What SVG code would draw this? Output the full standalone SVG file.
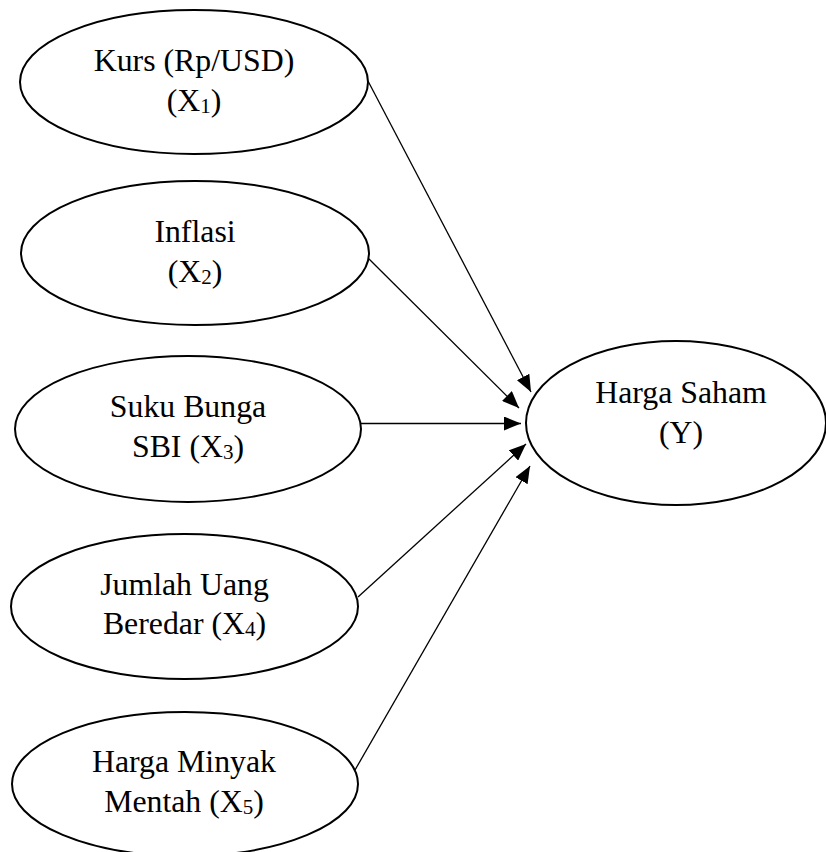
<svg xmlns="http://www.w3.org/2000/svg" width="826" height="852" viewBox="0 0 826 852">
<style>
.node ellipse{fill:#fff;stroke:#000;stroke-width:2}
.lbl{font-family:"Liberation Serif","Times New Roman",serif;font-size:31.8px;fill:#000;text-anchor:middle}
.sub{font-size:21px}
#connectors line{stroke:#000;stroke-width:1.3;marker-end:url(#arr)}
</style>
<defs>
<marker id="arr" markerUnits="userSpaceOnUse" markerWidth="17" markerHeight="14" refX="17" refY="7" orient="auto">
<path d="M0,0 L17,7 L0,14 z" fill="#000"/>
</marker>
</defs>
<rect width="826" height="852" fill="#fff"/>
<g id="connectors">
<line x1="368" y1="81" x2="531" y2="392"/>
<line x1="368" y1="258" x2="519" y2="408"/>
<line x1="361" y1="423.5" x2="521" y2="423.5"/>
<line x1="358" y1="597" x2="526" y2="444"/>
<line x1="355" y1="770" x2="530" y2="466"/>
</g>
<g id="x1" class="node">
<ellipse cx="194" cy="82" rx="174" ry="72"/>
<text class="lbl" x="194" y="71">Kurs (Rp/USD)</text>
<text class="lbl" x="194" y="111">(X<tspan class="sub" dy="2">1</tspan><tspan dy="-2">)</tspan></text>
</g>
<g id="x2" class="node">
<ellipse cx="195" cy="253" rx="174" ry="72"/>
<text class="lbl" x="195" y="242">Inflasi</text>
<text class="lbl" x="195" y="282">(X<tspan class="sub" dy="2">2</tspan><tspan dy="-2">)</tspan></text>
</g>
<g id="x3" class="node">
<ellipse cx="188" cy="429" rx="173" ry="73"/>
<text class="lbl" x="188" y="417">Suku Bunga</text>
<text class="lbl" x="188" y="457">SBI (X<tspan class="sub" dy="2">3</tspan><tspan dy="-2">)</tspan></text>
</g>
<g id="x4" class="node">
<ellipse cx="184.5" cy="606.5" rx="173.5" ry="72.5"/>
<text class="lbl" x="184.5" y="595">Jumlah Uang</text>
<text class="lbl" x="184.5" y="634">Beredar (X<tspan class="sub" dy="2">4</tspan><tspan dy="-2">)</tspan></text>
</g>
<g id="x5" class="node">
<ellipse cx="185" cy="784" rx="173" ry="72"/>
<text class="lbl" x="184" y="772">Harga Minyak</text>
<text class="lbl" x="184" y="812">Mentah (X<tspan class="sub" dy="2">5</tspan><tspan dy="-2">)</tspan></text>
</g>
<g id="y" class="node">
<ellipse cx="676" cy="423" rx="150" ry="82"/>
<text class="lbl" x="681" y="403">Harga Saham</text>
<text class="lbl" x="681" y="443">(Y)</text>
</g>
</svg>
